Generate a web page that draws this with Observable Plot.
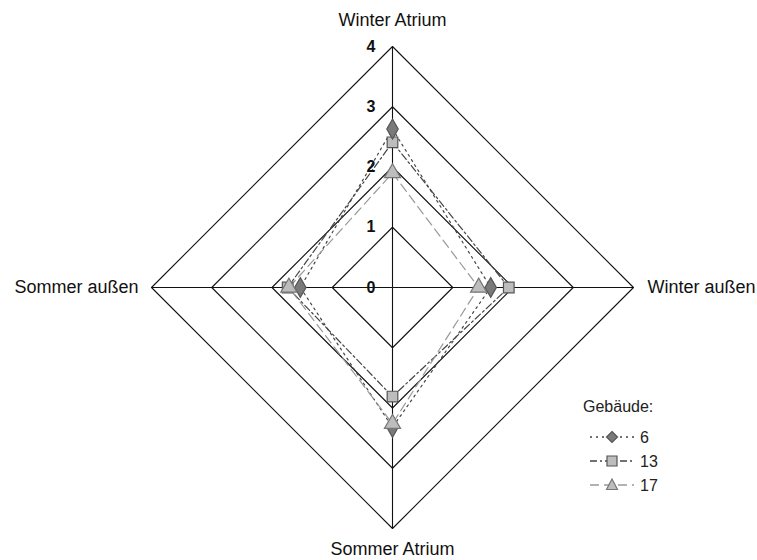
<!DOCTYPE html>
<html><head><meta charset="utf-8">
<script src="https://cdn.jsdelivr.net/npm/d3@7"></script>
<script src="https://cdn.jsdelivr.net/npm/@observablehq/plot@0.6"></script>
<style>
body{margin:0;background:#fff;font-family:"Liberation Sans",Arial,sans-serif;}
#wrap{position:relative;width:757px;height:560px;}
#legend{position:absolute;left:583px;top:398px;font-size:16px;color:#222;}
</style>
</head><body><div id="wrap"></div>
<script>
const axes = ["Winter Atrium", "Winter außen", "Sommer Atrium", "Sommer außen"];
const dirs = [[0,1],[1,0],[0,-1],[-1,0]];
const levels = [1,2,3,4];
const tickLabels = ["0","1","2","3","4"];
const seriesNames = ["6","13","17"];
const values6  = [2.63, 1.63, 2.32, 1.53];
const values13 = [2.41, 1.93, 1.81, 1.74];
const values17 = [1.90, 1.43, 2.26, 1.72];

const styles = {
  "6":  {stroke:"#444", dash:"2,4", symbol:"diamond", fill:"#7a7a7a", mstroke:"#555", r:6},
  "13": {stroke:"#444", dash:"7,3,2,3", symbol:"square", fill:"#bdbdbd", mstroke:"#555", r:6},
  "17": {stroke:"#999", dash:"9,5", symbol:"triangle", fill:"#bdbdbd", mstroke:"#777", r:6}
};

const seriesVals = {"6":values6,"13":values13,"17":values17};
const pts = [];
for (const s of seriesNames) {
  seriesVals[s].forEach((v,i)=>pts.push({s, i, x:v*dirs[i][0], y:v*dirs[i][1]}));
}
const closed = s => { const p = pts.filter(d=>d.s===s); return [...p, p[0]]; };

const grid = [];
for (const l of levels) for (let i=0;i<=4;i++){ const d=dirs[i%4]; grid.push({l, x:l*d[0], y:l*d[1]}); }
const spokes = dirs.map((d,i)=>({i, x1:0,y1:0,x2:4*d[0],y2:4*d[1]}));
const ticks = tickLabels.map((t,i)=>({t, v:i}));
const axLabels = axes.map((a,i)=>({a, x:4*dirs[i][0], y:4*dirs[i][1], i}));

const marks = [
  Plot.line(grid, {x:"x", y:"y", z:"l", stroke:"#111", strokeWidth:1.1}),
  Plot.link(spokes, {x1:"x1", y1:"y1", x2:"x2", y2:"y2", stroke:"#111", strokeWidth:1.1}),
];
for (const s of seriesNames) {
  const st = styles[s];
  marks.push(Plot.line(closed(s), {x:"x", y:"y", stroke:st.stroke, strokeDasharray:st.dash, strokeWidth:1.2}));
}
for (const s of ["13","6","17"]) {
  const st = styles[s];
  marks.push(Plot.dot(pts.filter(d=>d.s===s), {x:"x", y:"y", symbol:()=>st.symbol, r:st.r, fill:st.fill, stroke:st.mstroke, strokeWidth:1.2}));
}
marks.push(Plot.text(ticks, {x:0, y:"v", text:"t", textAnchor:"end", dx:-17, fontWeight:"bold", fontSize:16, fill:"#111"}));
marks.push(Plot.text(axLabels.filter(d=>d.i===0), {x:"x", y:"y", text:"a", dy:-26, fontSize:18, fill:"#111"}));
marks.push(Plot.text(axLabels.filter(d=>d.i===2), {x:"x", y:"y", text:"a", dy:21, fontSize:18, fill:"#111"}));
marks.push(Plot.text(axLabels.filter(d=>d.i===1), {x:"x", y:"y", text:"a", dx:14, textAnchor:"start", fontSize:18, fill:"#111"}));
marks.push(Plot.text(axLabels.filter(d=>d.i===3), {x:"x", y:"y", text:"a", dx:-13, textAnchor:"end", fontSize:18, fill:"#111"}));

const chart = Plot.plot({
  width:757, height:560,
  marginLeft:151, marginRight:124, marginTop:46, marginBottom:32,
  x:{domain:[-4,4], axis:null},
  y:{domain:[-4,4], axis:null},
  style:{fontFamily:"Liberation Sans, Arial, sans-serif", background:"#fff"},
  marks
});
document.getElementById("wrap").appendChild(chart);

// legend
const lg = document.createElement("div");
lg.id = "legend";
const symPath = {
  diamond: "M0,-5.5L5.5,0L0,5.5L-5.5,0Z",
  square: "M-5,-5H5V5H-5Z",
  triangle: "M0,-6L5.5,4.5H-5.5Z"
};
let html = `<div style="margin-bottom:9px">Gebäude:</div><svg width="110" height="80" style="display:block">`;
seriesNames.forEach((s,k)=>{
  const st = styles[s]; const y = 12 + k*24;
  html += `<line x1="7" x2="51" y1="${y}" y2="${y}" stroke="${st.stroke}" stroke-dasharray="${st.dash}" stroke-width="1.5"/>`;
  html += `<path d="${symPath[st.symbol]}" transform="translate(29,${y})" fill="${st.fill}" stroke="${st.mstroke}" stroke-width="1.2"/>`;
  html += `<text x="57" y="${y+6}" font-size="16" fill="#222" font-family="Liberation Sans, Arial, sans-serif">${s}</text>`;
});
html += `</svg>`;
lg.innerHTML = html;
document.getElementById("wrap").appendChild(lg);
</script>
</body></html>
